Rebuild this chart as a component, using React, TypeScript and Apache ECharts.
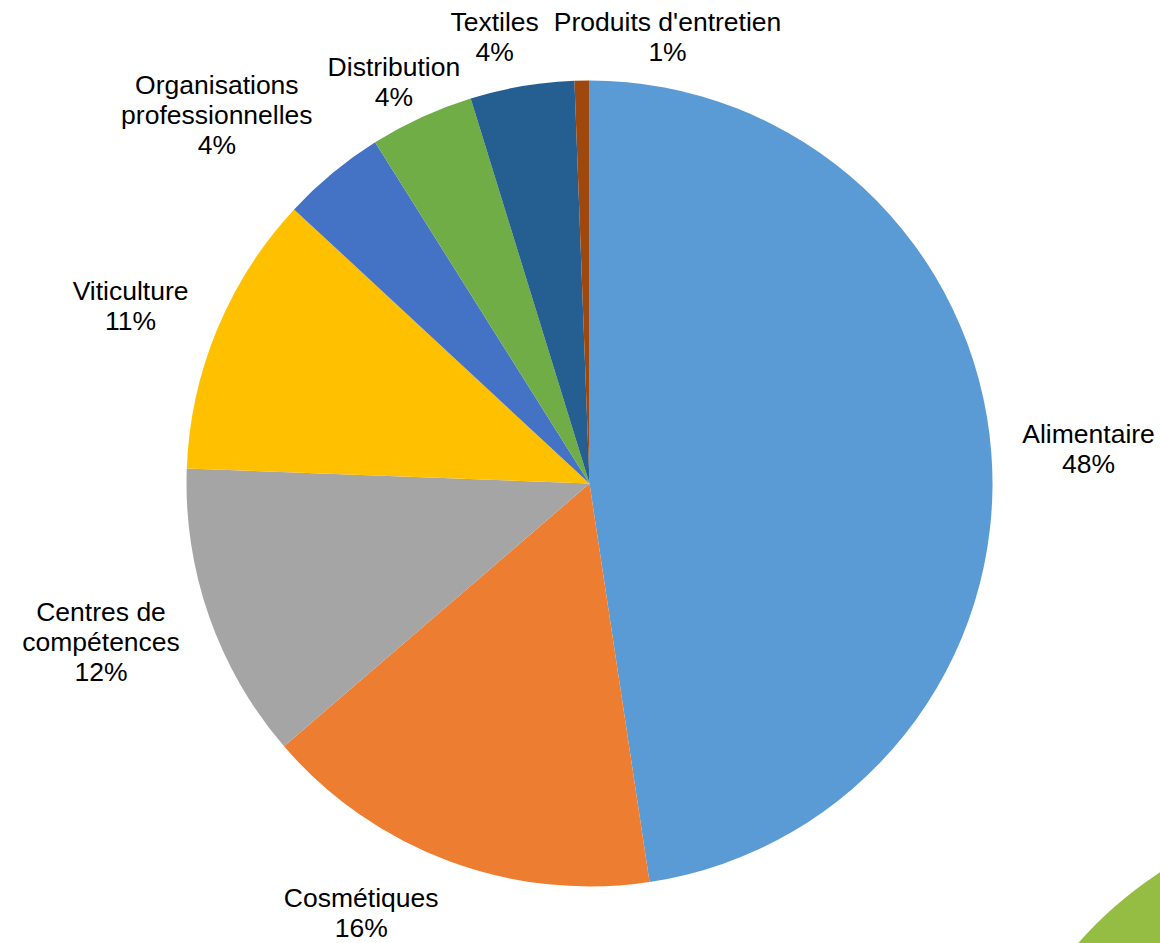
import React, { useEffect, useRef } from "react";
import * as echarts from "echarts";

// ---- Data ----
const categories = [
  "Alimentaire",
  "Cosmétiques",
  "Centres de\ncompétences",
  "Viticulture",
  "Organisations\nprofessionnelles",
  "Distribution",
  "Textiles",
  "Produits d'entretien",
];
const values = [80, 27, 20, 19, 7, 7, 7, 1];
const colors = [
  "#5B9BD5",
  "#ED7D31",
  "#A5A5A5",
  "#FFC000",
  "#4472C4",
  "#70AD47",
  "#255E91",
  "#9E480E",
];

// ---- Layout constants ----
const CX = 589.5;
const CY = 483.5;
const R = 403;
const GAP = 31;
const TOP = 7;
const BOTTOM = 943;
const SEP = 15;
const INSET = 8;

type Box = { x0: number; x1: number; y0: number; y1: number };

export default function App() {
  const ref = useRef<HTMLDivElement>(null);

  useEffect(() => {
    const chart = echarts.init(ref.current as HTMLDivElement, null, { renderer: "svg" });
    const total = values.reduce((a, b) => a + b, 0);
    const mids: number[] = [];
    let cum = 0;
    values.forEach((v) => {
      mids.push(((cum + v / 2) / total) * 2 * Math.PI);
      cum += v;
    });
    const boxes: Record<number, Box> = {};

    const option: any = {
      animation: false,
      graphic: [
        {
          type: "circle",
          shape: { cx: 1374, cy: 1202, r: 393 },
          style: { fill: "#95BD43" },
          silent: true,
          z: -1,
        },
      ],
      series: [
        {
          type: "pie",
          center: [CX, CY],
          radius: R,
          startAngle: 90,
          clockwise: true,
          avoidLabelOverlap: false,
          emphasis: { disabled: true },
          itemStyle: { borderWidth: 0 },
          data: categories.map((name, i) => ({
            name,
            value: values[i],
            itemStyle: { color: colors[i] },
          })),
          label: {
            show: true,
            position: "outside",
            formatter: (p: any) => `${p.name}\n${Math.round(p.percent)}%`,
            fontFamily: "Liberation Sans, Arial, sans-serif",
            fontSize: 26.5,
            lineHeight: 30,
            color: "#000000",
          },
          labelLine: { show: false },
          labelLayout: (p: any) => {
            const i = p.dataIndex;
            const a = mids[i];
            const s = Math.sin(a);
            const c = Math.cos(a);
            const w = p.labelRect.width;
            const h = p.labelRect.height;
            const ax = CX + (R + GAP) * s;
            const ay = CY - (R + GAP) * c;
            const fx = Math.max(-1, Math.min(1, 3 * s));
            const fy = -c;
            let x = ax + (fx * w) / 2;
            let y = ay + (fy * h) / 2;
            let clamped = false;
            const clampY = () => {
              if (y - h / 2 < TOP) {
                y = TOP + h / 2;
                clamped = true;
              }
              if (y + h / 2 > BOTTOM) {
                y = BOTTOM - h / 2;
                clamped = true;
              }
            };
            clampY();
            for (let j = 0; j < i; j++) {
              const b = boxes[j];
              if (!b) continue;
              const overlap =
                x - w / 2 < b.x1 &&
                x + w / 2 > b.x0 &&
                y - h / 2 + INSET < b.y1 &&
                y + h / 2 - INSET > b.y0;
              if (overlap) {
                if (c > 0) x = b.x1 + SEP + w / 2;
                else x = b.x0 - SEP - w / 2;
                if (!clamped) y = ay + (fy * h) / 8;
              }
            }
            boxes[i] = {
              x0: x - w / 2,
              x1: x + w / 2,
              y0: y - h / 2 + INSET,
              y1: y + h / 2 - INSET,
            };
            return { x, y, align: "center", verticalAlign: "middle" };
          },
        },
      ],
    };
    chart.setOption(option);
    return () => chart.dispose();
  }, []);

  return (
    <div
      ref={ref}
      style={{ position: "fixed", left: 0, top: 0, width: 1160, height: 943, background: "#ffffff" }}
    />
  );
}
